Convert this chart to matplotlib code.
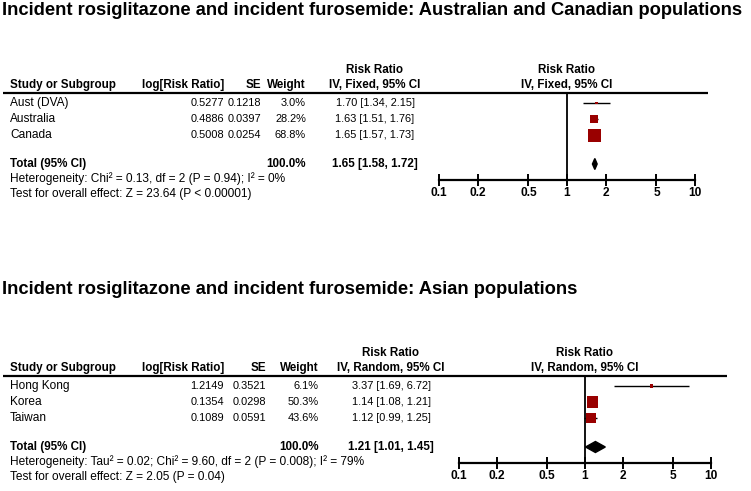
import matplotlib
matplotlib.use('Agg')
import matplotlib.pyplot as plt
from matplotlib.patches import Polygon
import numpy as np

plt.rcParams['font.family'] = ['Liberation Sans', 'DejaVu Sans']

W, H = 751, 491

# ---------------- data ----------------
title1 = "Incident rosiglitazone and incident furosemide: Australian and Canadian populations"
title2 = "Incident rosiglitazone and incident furosemide: Asian populations"

studies1 = ["Aust (DVA)", "Australia", "Canada"]
log_rr1 = ["0.5277", "0.4886", "0.5008"]
se1 = ["0.1218", "0.0397", "0.0254"]
weight1 = [3.0, 28.2, 68.8]
rr1 = [1.70, 1.63, 1.65]
lo1 = [1.34, 1.51, 1.57]
hi1 = [2.15, 1.76, 1.73]
total1 = [1.65, 1.58, 1.72]
het1 = "Heterogeneity: Chi\u00b2 = 0.13, df = 2 (P = 0.94); I\u00b2 = 0%"
test1 = "Test for overall effect: Z = 23.64 (P < 0.00001)"
method1 = "IV, Fixed, 95% CI"

studies2 = ["Hong Kong", "Korea", "Taiwan"]
log_rr2 = ["1.2149", "0.1354", "0.1089"]
se2 = ["0.3521", "0.0298", "0.0591"]
weight2 = [6.1, 50.3, 43.6]
rr2 = [3.37, 1.14, 1.12]
lo2 = [1.69, 1.08, 0.99]
hi2 = [6.72, 1.21, 1.25]
total2 = [1.21, 1.01, 1.45]
het2 = "Heterogeneity: Tau\u00b2 = 0.02; Chi\u00b2 = 9.60, df = 2 (P = 0.008); I\u00b2 = 79%"
test2 = "Test for overall effect: Z = 2.05 (P = 0.04)"
method2 = "IV, Random, 95% CI"

ticks = [0.1, 0.2, 0.5, 1, 2, 5, 10]
tick_labels = ["0.1", "0.2", "0.5", "1", "2", "5", "10"]

# ---------------- layout ----------------
FS = 8.6
HFS = 8.4
VFS = 7.9
TFS = 13.2
SQ_COLOR = '#990000'

fig = plt.figure(figsize=(W / 100, H / 100), dpi=100)
bg = fig.add_axes([0, 0, 1, 1])
bg.set_xlim(0, W)
bg.set_ylim(H, 0)
bg.axis('off')


def px2fig(x0, y0, x1, y1):
    return [x0 / W, 1 - y1 / H, (x1 - x0) / W, (y1 - y0) / H]


def fmt_ci(e, l, h):
    return f"{e:.2f} [{l:.2f}, {h:.2f}]"


def section(title, title_y, base, studies, logs, ses, weights, rr, lo, hi, total,
            het, test, method, col_log, col_se, col_w, rr_c, fx0, fx1, line_end):
    bold = dict(fontsize=HFS, fontweight='bold', va='center')
    reg = dict(fontsize=FS, va='center')
    val = dict(fontsize=VFS, va='center')
    bg.text(2, title_y, title, fontsize=TFS, fontweight='bold', va='center', ha='left')

    y_h1, y_h2 = base - 23, base - 8
    x_one = fx0 + (fx1 - fx0) * 0.5
    bg.text(rr_c, y_h1, "Risk Ratio", ha='center', **bold)
    bg.text(x_one, y_h1, "Risk Ratio", ha='center', **bold)
    bg.text(10, y_h2, "Study or Subgroup", ha='left', **bold)
    bg.text(col_log, y_h2, "log[Risk Ratio]", ha='right', **bold)
    bg.text(col_se, y_h2, "SE", ha='right', **bold)
    bg.text(col_w, y_h2, "Weight", ha='right', **bold)
    bg.text(rr_c, y_h2, method, ha='center', **bold)
    bg.text(x_one, y_h2, method, ha='center', **bold)
    bg.plot([3, line_end], [base, base], color='black', lw=1.6, solid_capstyle='butt')

    row_y = [base + 10 + 16 * i for i in range(len(studies))]
    for y, s, lg, se, w, e, l, h in zip(row_y, studies, logs, ses, weights, rr, lo, hi):
        bg.text(10, y, s, ha='left', **reg)
        bg.text(col_log, y, lg, ha='right', **val)
        bg.text(col_se, y, se, ha='right', **val)
        bg.text(col_w, y, f"{w:.1f}%", ha='right', **val)
        bg.text(rr_c, y, fmt_ci(e, l, h), ha='center', **val)

    y_tot = base + 71
    bg.text(10, y_tot, "Total (95% CI)", ha='left', **bold)
    bg.text(col_w, y_tot, "100.0%", ha='right', **bold)
    bg.text(rr_c, y_tot, fmt_ci(*total), ha='center', **bold)
    bg.text(10, base + 86, het, ha='left', **reg)
    bg.text(10, base + 101, test, ha='left', **reg)

    axis_y = base + 87
    ax = fig.add_axes(px2fig(fx0, base, fx1, axis_y))
    ax.set_xscale('log')
    ax.set_xlim(0.1, 10)
    ax.set_ylim(axis_y, base)
    ax.patch.set_visible(False)
    for sp in ['top', 'left', 'right']:
        ax.spines[sp].set_visible(False)
    ax.spines['bottom'].set_linewidth(1.6)
    ax.set_yticks([])
    ax.set_xticks(ticks)
    ax.set_xticklabels(tick_labels, fontsize=FS, fontweight='bold')
    ax.minorticks_off()
    ax.tick_params(axis='x', direction='inout', length=8, width=1.4, pad=1)
    ax.axvline(1, color='black', lw=1.3)

    ax.hlines(row_y, lo, hi, color='black', lw=1.0, zorder=2)
    sides = [13.0 * np.sqrt(w / 68.8) for w in weights]
    ax.scatter(rr, row_y, s=[(sd * 0.72) ** 2 for sd in sides], marker='s',
               color=SQ_COLOR, linewidths=0, zorder=3, clip_on=False)
    e, l, h = total
    dh = 5.5
    ax.add_patch(Polygon([(l, y_tot), (e, y_tot - dh), (h, y_tot), (e, y_tot + dh)],
                         closed=True, color='black', zorder=3, clip_on=False))


section(title1, 10, 93, studies1, log_rr1, se1, weight1, rr1, lo1, hi1, total1,
        het1, test1, method1, 224, 261, 306, 375, 439, 695, 708)
section(title2, 290, 376, studies2, log_rr2, se2, weight2, rr2, lo2, hi2, total2,
        het2, test2, method2, 224, 266, 319, 391, 459, 711, 727)

fig.savefig('out.png', dpi=100)
